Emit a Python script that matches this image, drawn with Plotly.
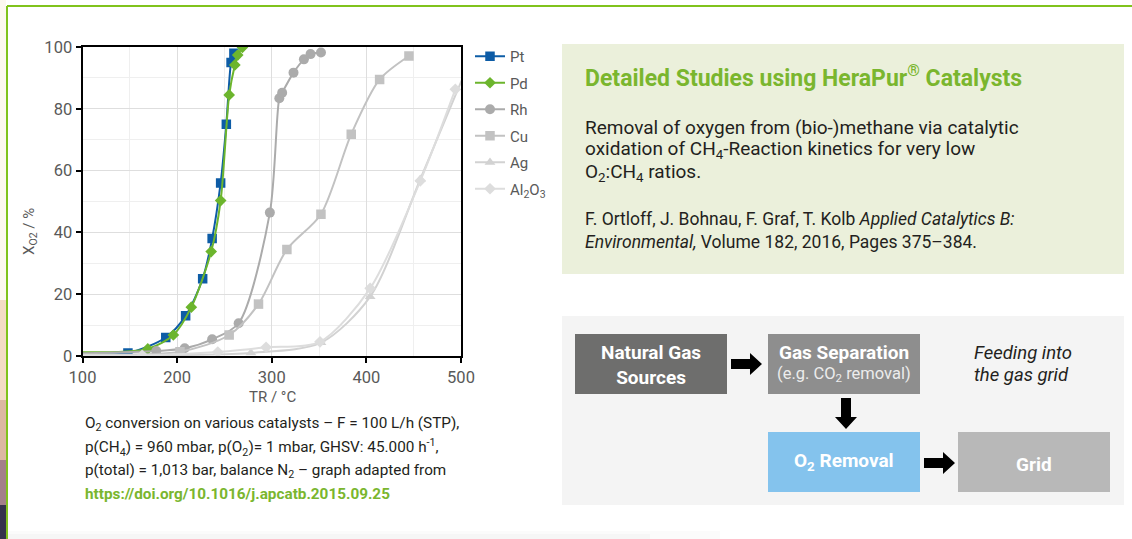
import plotly.graph_objects as go

# ---------------- data ----------------
temp_pt = [90, 148, 188, 209, 227, 237, 246, 252, 257, 260]
conv_pt = [1.0, 1.0, 6, 13, 25, 38, 56, 75, 95, 98]

temp_pd = [90, 169, 196, 215, 236, 246, 255, 261, 264, 269]
conv_pd = [1.2, 2.3, 6.8, 15.8, 33.8, 50.3, 84.5, 94.2, 97.4, 99.9]

temp_rh = [90, 178, 208, 237, 265, 298, 308, 311, 323, 334, 341, 352]
conv_rh = [0.8, 1.6, 2.5, 5.4, 10.6, 46.4, 83.4, 85.2, 91.7, 96, 97.7, 98.2]

temp_cu = [90, 203, 255, 286, 316, 352, 384, 414, 445]
conv_cu = [0.6, 1.4, 6.8, 16.8, 34.5, 45.9, 71.8, 89.5, 97.1]

temp_ag = [90, 278, 352, 404, 457, 510]
conv_ag = [0.3, 1.0, 4.3, 19.2, 57.2, 96]

temp_al = [90, 163, 243, 294, 351, 404, 457, 494]
conv_al = [0.3, 0.2, 1.3, 2.8, 4.6, 21.9, 56.7, 86.3]

x_ticks = [100, 200, 300, 400, 500]
y_ticks = [0, 20, 40, 60, 80, 100]

series = [
    ("Pt", temp_pt, conv_pt, "#0d5ca6", "square", 9.5),
    ("Pd", temp_pd, conv_pd, "#6cb52d", "diamond", 9),
    ("Rh", temp_rh, conv_rh, "#ababab", "circle", 10),
    ("Cu", temp_cu, conv_cu, "#c2c2c2", "square", 9.5),
    ("Ag", temp_ag, conv_ag, "#d2d2d2", "triangle-up", 9.5),
    ("Al<sub>2</sub>O<sub>3</sub>", temp_al, conv_al, "#dddddd", "diamond", 9),
]

W, H = 1132, 539


def fx(p):
    return p / W


def fy(p):
    return 1 - p / H


FONT = "Roboto"
DARK = "#231f20"
GREEN = "#7ab62e"

fig = go.Figure()
for i, (name, xs, ys, col, sym, msize) in enumerate(series):
    fig.add_trace(go.Scatter(
        x=xs, y=ys, name=name, mode="lines+markers",
        line=dict(color=col, width=2, shape="spline", smoothing=0.8),
        marker=dict(color=col, symbol=sym, size=msize),
        legendgroup=str(i),
    ))

fig.update_layout(
    width=W, height=H, autosize=False,
    margin=dict(l=0, r=0, t=0, b=0),
    paper_bgcolor="white", plot_bgcolor="white",
    font=dict(family=FONT, color="#595959"),
    showlegend=True,
    legend=dict(x=fx(470), y=fy(40), xanchor="left", yanchor="top",
                font=dict(size=15, color="#595959", family=FONT),
                bgcolor="rgba(0,0,0,0)", tracegroupgap=4, itemwidth=30),
    xaxis=dict(domain=[fx(82.5), fx(461)], range=[100, 500], tickvals=x_ticks,
               showgrid=True, gridcolor="#dedede", gridwidth=1,
               minor=dict(dtick=50, showgrid=True, gridcolor="#efefef"),
               showline=True, linecolor="black", linewidth=2, mirror=True,
               ticks="outside", ticklen=5, tickcolor="black", tickwidth=1.5,
               tickfont=dict(size=16.5, color="#595959", family=FONT),
               zeroline=False, automargin=False, fixedrange=True),
    yaxis=dict(domain=[fy(356), fy(47)], range=[0, 100], tickvals=y_ticks,
               showgrid=True, gridcolor="#dedede", gridwidth=1,
               minor=dict(dtick=10, showgrid=True, gridcolor="#efefef"),
               showline=True, linecolor="black", linewidth=2, mirror=True,
               ticks="outside", ticklen=5, tickcolor="black", tickwidth=1.5,
               tickfont=dict(size=16.5, color="#595959", family=FONT),
               zeroline=False, automargin=False, fixedrange=True),
)

shapes = []


def rect(x0, y0, x1, y1, color, **kw):
    shapes.append(dict(type="rect", xref="paper", yref="paper",
                       x0=fx(x0), x1=fx(x1), y0=fy(y1), y1=fy(y0),
                       fillcolor=color, line=dict(width=0), layer="above", **kw))


# left decorative strip
strip = [(0, 300, "#fcf8f0"), (300, 400, "#f4dcc6"), (400, 460, "#dcb8a2"),
         (460, 505, "#a3808a"), (505, 539, "#35334c")]
for y0, y1, c in strip:
    rect(0, y0, 6, y1, c)
# bottom shadow (soft)
rect(7, 531, 720, 539, "rgba(0,0,0,0.015)")
rect(7, 534, 650, 539, "rgba(0,0,0,0.02)")
# green frame lines
shapes.append(dict(type="line", xref="paper", yref="paper", x0=fx(7), x1=1,
                   y0=fy(6), y1=fy(6), line=dict(color="#80c31c", width=2)))
shapes.append(dict(type="line", xref="paper", yref="paper", x0=fx(7), x1=fx(7),
                   y0=fy(6), y1=0, line=dict(color="#80c31c", width=2)))
# info boxes
rect(562, 44, 1124, 274, "#ebf0db")
rect(562, 316, 1124, 505, "#f4f4f4")
rect(575, 334, 727, 394, "#6e6e6d")
rect(768, 334, 920, 394, "#8e8e8e")
rect(768, 432, 920, 492, "#84c3ed")
rect(958, 432, 1110, 492, "#b8b8b8")


def arrow_right(x0, x1, yc):
    hx = x1 - 12
    pts = [(x0, yc - 5), (hx, yc - 5), (hx, yc - 11), (x1, yc), (hx, yc + 11),
           (hx, yc + 5), (x0, yc + 5)]
    path = "M " + " L ".join(f"{fx(a):.5f},{fy(b):.5f}" for a, b in pts) + " Z"
    shapes.append(dict(type="path", xref="paper", yref="paper", path=path,
                       fillcolor="black", line=dict(width=0)))


def arrow_down(xc, y0, y1):
    hy = y1 - 12
    pts = [(xc - 5, y0), (xc + 5, y0), (xc + 5, hy), (xc + 11, hy), (xc, y1),
           (xc - 11, hy), (xc - 5, hy)]
    path = "M " + " L ".join(f"{fx(a):.5f},{fy(b):.5f}" for a, b in pts) + " Z"
    shapes.append(dict(type="path", xref="paper", yref="paper", path=path,
                       fillcolor="black", line=dict(width=0)))


arrow_right(731, 762, 364)
arrow_down(846, 398, 429)
arrow_right(924, 955, 463)

fig.update_layout(shapes=shapes)

ann = []


def text(x, y, s, size, color=DARK, xanchor="left", **kw):
    ann.append(dict(x=fx(x), y=fy(y), xref="paper", yref="paper", text=s,
                    showarrow=False, xanchor=xanchor, yanchor="middle",
                    font=dict(size=size, color=color, family=FONT), **kw))


# axis titles
text(272, 397, "TR / °C", 15, color="#595959", xanchor="center")
text(30, 232, "X<sub>O2</sub> / %", 15, color="#595959", xanchor="center", textangle=-90)

# caption
CS = 15.3
text(83, 424, "O<sub>2</sub> conversion on various catalysts – F = 100 L/h (STP),", CS)
text(83, 447, "p(CH<sub>4</sub>) = 960 mbar, p(O<sub>2</sub>)= 1 mbar, GHSV: 45.000 h<sup>-1</sup>,", CS)
text(83, 471, "p(total) = 1,013 bar, balance N<sub>2</sub> – graph adapted from", CS)
text(83, 494, "<b>https://doi.org/10.1016/j.apcatb.2015.09.25</b>", CS, color=GREEN)

# green info box
text(583, 76, "<b>Detailed Studies using HeraPur<sup>®</sup> Catalysts</b>", 23, color=GREEN)
text(583, 127, "Removal of oxygen from (bio-)methane via catalytic", 19)
text(583, 150, "oxidation of CH<sub>4</sub>-Reaction kinetics for very low", 19)
text(583, 172, "O<sub>2</sub>:CH<sub>4</sub> ratios.", 19)
text(583, 219, "F. Ortloff, J. Bohnau, F. Graf, T. Kolb <i>Applied Catalytics B:</i>", 17.5)
text(583, 242, "<i>Environmental,</i> Volume 182, 2016, Pages 375–384.", 17.5)

# flow chart
text(651, 365, "<b>Natural Gas<br>Sources</b>", 19, color="white", xanchor="center")
text(844, 352, "<b>Gas Separation</b>", 19, color="white", xanchor="center")
text(844, 374, "(e.g. CO<sub>2</sub> removal)", 16.5, color="#ececec", xanchor="center")
text(972, 353, "<i>Feeding into</i>", 18.5)
text(972, 375, "<i>the gas grid</i>", 18.5)
text(844, 461, "<b>O<sub>2</sub> Removal</b>", 19, color="white", xanchor="center")
text(1034, 464, "<b>Grid</b>", 19, color="white", xanchor="center")

fig.update_layout(annotations=ann)

fig.write_html("out.html", config={"displayModeBar": False},
               post_script="document.body.style.margin='0';document.body.style.overflow='hidden';")
